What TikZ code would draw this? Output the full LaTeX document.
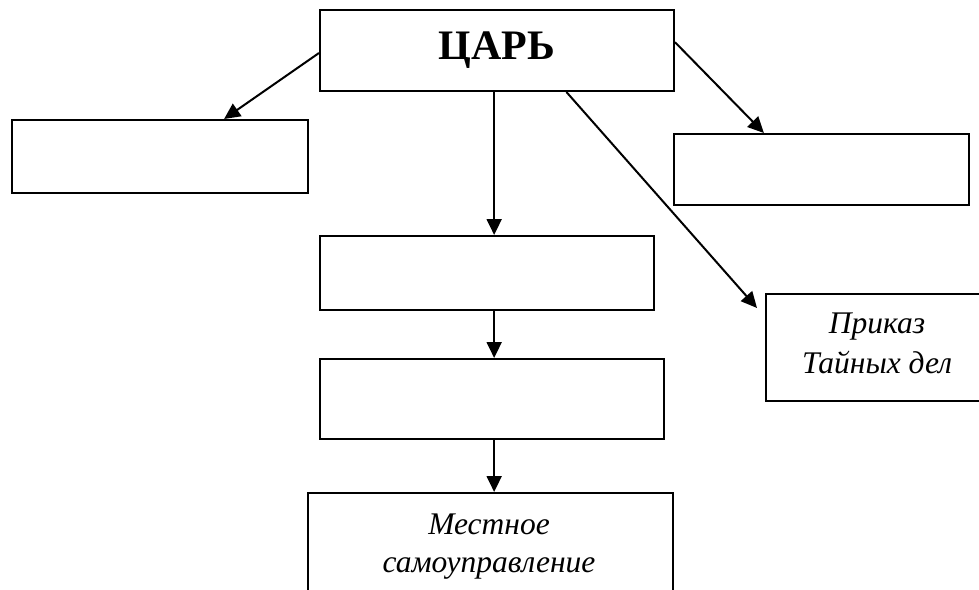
\documentclass[tikz,border=0pt]{standalone}
\usepackage{fontspec}
\setmainfont{Liberation Serif}
\usetikzlibrary{arrows.meta,calc}
\begin{document}
\begin{tikzpicture}[x=1pt,y=-1pt,
  box/.style={draw, line width=2pt, rectangle, inner sep=0pt, anchor=north west, align=center},
  arr/.style={-{Triangle[length=16pt,width=15pt]}, line width=2pt},
  itext/.style={font=\fontsize{31.5}{39}\selectfont\itshape, align=center, anchor=north}]
\useasboundingbox (0,0) rectangle (979,589);
\node[box, minimum width=354pt, minimum height=81pt, font=\fontsize{42}{46}\selectfont\bfseries] (tsar) at (319,9) {ЦАРЬ};
\node[box, minimum width=296pt, minimum height=73pt] (left) at (11,119) {};
\node[box, minimum width=295pt, minimum height=71pt] (right) at (673,133) {};
\node[box, minimum width=334pt, minimum height=74pt] (mid1) at (319,235) {};
\node[box, minimum width=344pt, minimum height=80pt] (mid2) at (319,358) {};
\node[box, minimum width=225pt, minimum height=107pt] (pr) at (765,293) {};
\node[itext, font=\fontsize{31.5}{40}\selectfont\itshape] (prtext) at (877,309) {Приказ\\Тайных дел};
\node[box, minimum width=365pt, minimum height=112pt] (local) at (307,492) {};
\node[itext, font=\fontsize{31.5}{38}\selectfont\itshape] (localtext) at (489,510) {Местное\\самоуправление};
% connectors
\coordinate (lstart) at ($(tsar.north west)!0.53!(tsar.south west)$);
\coordinate (lend) at ($(left.north west)!0.715!(left.north east)$);
\draw[arr] (lstart) -- (lend);
\coordinate (rstart) at ($(tsar.north east)!0.4!(tsar.south east)$);
\coordinate (rend) at ($(right.north west)!0.306!(right.north east)$);
\draw[arr] (rstart) -- (rend);
\coordinate (vstart) at ($(tsar.south west)!0.492!(tsar.south east)$);
\draw[arr] (vstart) -- (vstart |- mid1.north);
\coordinate (dstart) at ($(tsar.south west)!0.695!(tsar.south east)$);
\coordinate (dend) at ($(pr.north west)+(-8,15)$);
\draw[arr] (dstart) -- (dend);
\coordinate (m1s) at (vstart |- mid1.south);
\draw[arr] (m1s) -- (m1s |- mid2.north);
\coordinate (m2s) at (vstart |- mid2.south);
\draw[arr] (m2s) -- (m2s |- local.north);
\end{tikzpicture}
\end{document}
